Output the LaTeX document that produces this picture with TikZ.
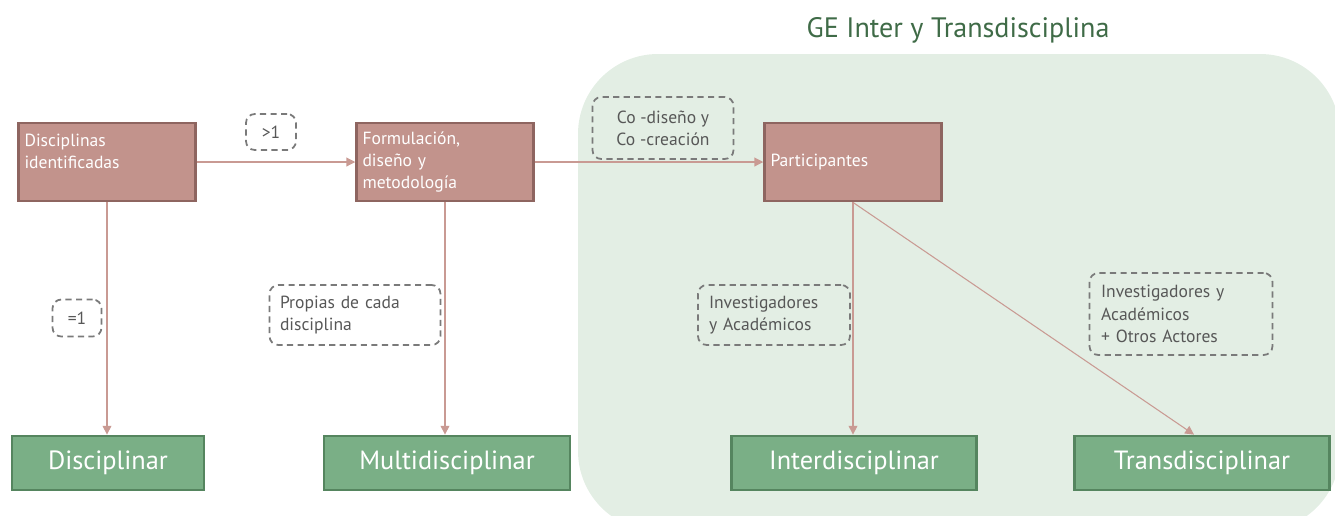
\documentclass[tikz,border=0pt]{standalone}
\usepackage{fontspec}
\setmainfont{PT Sans}
\usepackage{xcolor}
\usetikzlibrary{arrows.meta}

\definecolor{regionfill}{HTML}{E3EEE4}
\definecolor{titlegreen}{HTML}{3F6B47}
\definecolor{brownfill}{HTML}{C2938C}
\definecolor{browndraw}{HTML}{8E6560}
\definecolor{greenfill}{HTML}{7AAF86}
\definecolor{greendraw}{HTML}{55855F}
\definecolor{linkcolor}{HTML}{C99A93}
\definecolor{dashgray}{HTML}{7A7A7A}
\definecolor{notegray}{HTML}{575757}

\tikzset{
    brownbox/.style={rectangle,fill=brownfill,draw=browndraw,line width=1.6pt,
        minimum height=1.56cm,text width=3.3cm,align=left,text=white,
        font=\fontsize{10}{12.6}\selectfont},
    greenbox/.style={rectangle,fill=greenfill,draw=greendraw,line width=1.6pt,
        minimum height=1.08cm,text=white,font=\fontsize{15}{18}\selectfont},
    notebox/.style={rectangle,rounded corners=5pt,draw=dashgray,dashed,
        dash pattern=on 3.5pt off 2.5pt,line width=1pt,text=notegray,
        font=\fontsize{10}{12.6}\selectfont},
    link/.style={draw=linkcolor,line width=0.6pt,-{Triangle[length=5pt,width=5pt]}},
}

\begin{document}
\begin{tikzpicture}[x=0.02cm,y=-0.02cm]
    % \draw[help lines] grid (1335,515);
    \clip (0,0) rectangle (1335,515);

    % Region
    \fill[regionfill,rounded corners=1.6cm] (578,54) rectangle (1340,531);
    \node[text=titlegreen,font=\fontsize{16}{19}\selectfont] (title) at (958,30) {GE Inter y Transdisciplina};

    % Process boxes
    \node[brownbox] (disc) at (107,162) {Disciplinas\\identificadas\\~};
    \node[brownbox] (form) at (445,162) {Formulación,\\diseño y\\metodología};
    \node[brownbox] (part) at (853,162) {Participantes};

    % Outcomes
    \foreach \n / \x / \w / \t in {dis/108/3.84/Disciplinar,
            mul/447/4.92/Multidisciplinar,
            int/854/4.9/Interdisciplinar,
            tra/1202/5.1/Transdisciplinar} {
        \node[greenbox,minimum width=\w cm] (\n) at (\x,463) {\t};
    }

    % Notes
    \node[notebox,minimum width=1cm,minimum height=0.72cm] (gt) at (271,132) {>1};
    \node[notebox,minimum width=0.98cm,minimum height=0.74cm] (eq) at (77,318) {=1};
    \node[notebox,minimum width=3.42cm,minimum height=1.2cm,text width=3cm,align=left] (prop) at (355,315) {Propias de cada\\disciplina};
    \node[notebox,minimum width=2.82cm,minimum height=1.24cm,align=center] (codis) at (663,128) {Co -diseño y\\Co -creación};
    \node[notebox,minimum width=3.04cm,minimum height=1.2cm,text width=2.6cm,align=left] (invac) at (774,315) {Investigadores\\y Académicos};
    \node[notebox,minimum width=3.66cm,minimum height=1.64cm,text width=3.2cm,align=left] (invot) at (1181,314) {Investigadores y\\Académicos\\+ Otros Actores};

    % Links
    \draw[link] (disc.east) -- (form.west);
    \draw[link] (form.east) -- (part.west);
    \draw[link] (disc.south) -- (disc.south |- dis.north);
    \draw[link] (form.south) -- (form.south |- mul.north);
    \draw[link] (part.south) -- (part.south |- int.north);
    \draw[link] (part.south) -- ([xshift=-0.16cm]tra.north);

\end{tikzpicture}
\end{document}
